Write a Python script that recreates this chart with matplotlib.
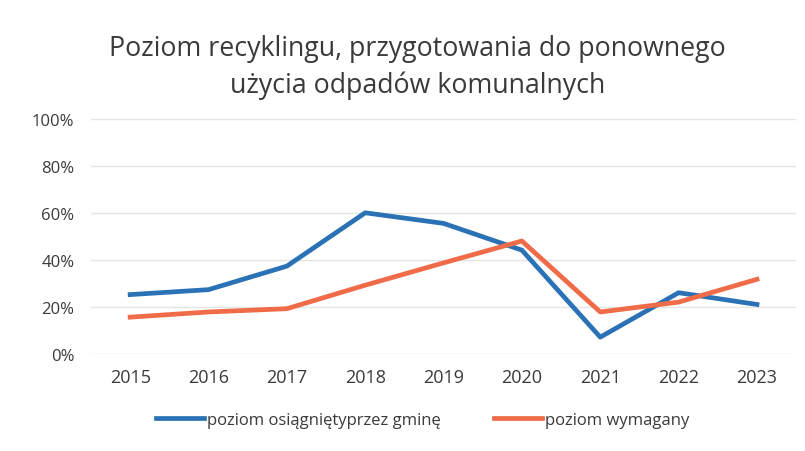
import matplotlib
matplotlib.use("Agg")
import matplotlib.pyplot as plt
from matplotlib.ticker import PercentFormatter

years = ["2015", "2016", "2017", "2018", "2019", "2020", "2021", "2022", "2023"]
achieved = [25.2, 27.3, 37.3, 60.0, 55.5, 44.1, 7.1, 26.0, 21.0]
required = [15.6, 17.8, 19.2, 29.2, 38.7, 48.0, 17.8, 22.0, 31.7]
label_achieved = "poziom osiągniętyprzez gminę"
label_required = "poziom wymagany"
title = "Poziom recyklingu, przygotowania do ponownego\nużycia odpadów komunalnych"

plt.rcParams['font.family'] = ['Open Sans', 'DejaVu Sans']

fig = plt.figure(figsize=(8.05, 4.52), dpi=100)
ax = fig.add_axes([0.113, 0.215, 0.876, 0.52])

x = list(range(len(years)))
ax.plot(x, achieved, color="#2a72b5", lw=3.4, label=label_achieved, solid_joinstyle="round")
ax.plot(x, required, color="#f06b48", lw=3.4, label=label_required, solid_joinstyle="round")

ax.set_xlim(-0.5, len(years) - 0.5)
ax.set_ylim(0, 100)
ax.set_yticks([0, 20, 40, 60, 80, 100])
ax.yaxis.set_major_formatter(PercentFormatter(decimals=0))
ax.set_xticks(x)
ax.set_xticklabels(years)
ax.grid(axis="y", color="#e4e4e4", lw=1)
ax.set_axisbelow(True)
for s in ax.spines.values():
    s.set_visible(False)
ax.tick_params(axis="y", length=0, labelsize=12, colors="#3a3a3a", pad=12)
ax.tick_params(axis="x", length=0, labelsize=13, colors="#3a3a3a", pad=10)

fig.text(0.519, 0.85, title, ha="center", va="center", fontsize=19.3,
         color="#3a3a3a", linespacing=1.4)

fig.legend(loc="center", bbox_to_anchor=(0.525, 0.068), ncol=2, frameon=False,
           fontsize=12, handlelength=2.9, columnspacing=3.2, handletextpad=0.15,
           labelcolor="#3a3a3a")

fig.savefig("out.png", dpi=100, facecolor="white")
